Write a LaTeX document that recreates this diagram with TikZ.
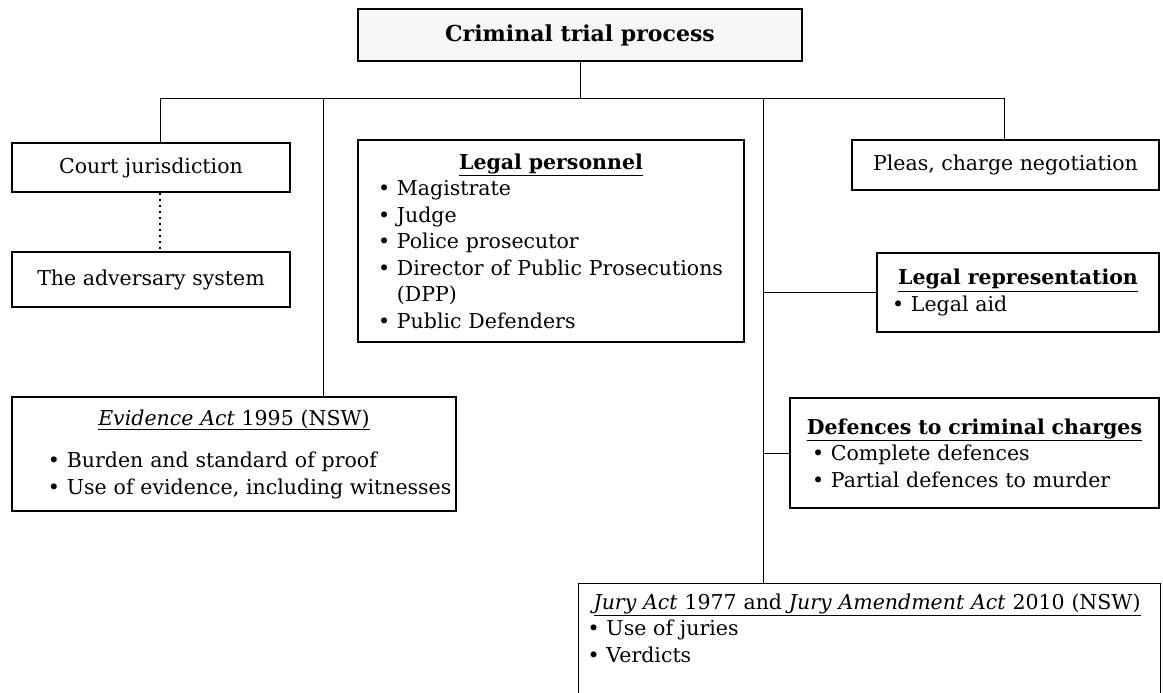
\documentclass[tikz,border=0pt]{standalone}
\usepackage{fontspec}
\setmainfont{DejaVu Serif}
\newcommand{\bul}[2][0pt]{\hspace*{#1}\textbullet~#2}
\newcommand{\head}[1]{\makebox[\hsize]{\underline{#1}}}

\begin{document}
\begin{tikzpicture}[x=1pt,y=-1pt,
  every node/.style={font=\fontsize{20.5}{26.5}\selectfont},
  box/.style={draw=black,line width=1.1pt,rectangle,inner sep=6pt,align=left},
  link/.style={draw=black,line width=1pt}]
\useasboundingbox (0,0) rectangle (1163,693);

 \draw (580,35) node[box,align=center,line width=1.5pt,fill=black!3,minimum width=444pt,minimum height=52pt,font=\fontsize{22}{26}\selectfont\bfseries] (trial)
              {Criminal trial process};

 \draw (151,167.5) node[box,align=center,minimum width=278pt,minimum height=49pt] (court)
              {Court jurisdiction};

 \draw (151,279.5) node[box,align=center,minimum width=278pt,minimum height=55pt] (adv)
              {The adversary system};

 \draw (551,241) node[box,minimum width=386pt,minimum height=202pt,text width=374pt] (pers)
              {\head{\textbf{Legal personnel}}\\
               \bul[14pt]{Magistrate}\\
               \bul[14pt]{Judge}\\
               \bul[14pt]{Police prosecutor}\\
               \bul[14pt]{Director of Public Prosecutions}\\
               \hspace*{14pt}\phantom{\textbullet~}(DPP)\\
               \bul[14pt]{Public Defenders}
              };

 \draw (234,454) node[box,minimum width=444pt,minimum height=114pt,text width=436pt,inner xsep=4pt] (evid)
              {\head{\emph{Evidence Act} 1995 (NSW)}\\[16pt]
               \bul[32pt]{Burden and standard of proof}\\
               \bul[32pt]{Use of evidence, including witnesses}
              };

 \draw (1005.5,165) node[box,align=center,minimum width=307pt,minimum height=50pt] (pleas)
              {Pleas, charge negotiation};

 \draw (1018,292.5) node[box,minimum width=282pt,minimum height=79pt,text width=270pt] (rep)
              {\head{\textbf{Legal representation}}\\
               \bul[9pt]{Legal aid}
              };

 \draw (974.5,453) node[box,minimum width=369pt,minimum height=110pt,text width=357pt] (def)
              {\head{\textbf{Defences to criminal charges}}\\
               \bul[16pt]{Complete defences}\\
               \bul[16pt]{Partial defences to murder}
              };

 \draw (578,583) node[box,anchor=north west,inner ysep=10pt,minimum width=582pt,text width=570pt] (jury)
              {\hspace*{9pt}\underline{\emph{Jury Act} 1977 and \emph{Jury Amendment Act} 2010 (NSW)}\\
               \bul[3pt]{Use of juries}\\
               \bul[3pt]{Verdicts}\\[30pt]
               \mbox{}
              };

 \coordinate (jL) at (160,99);
 \coordinate (jE) at (323,99);
 \coordinate (jR) at (763,99);
 \coordinate (jP) at (1004,99);

 \draw[link] (trial.south) -- (trial.south |- jL);
 \draw[link] (jL |- court.north) -- (jL) -- (jP) -- (jP |- pleas.north);
 \draw[link] (jE) -- (jE |- evid.north);
 \draw[link] (jR) -- (jR |- jury.north);
 \draw[link] (jR |- rep.west) -- (rep.west);
 \draw[link] (jR |- def.west) -- (def.west);
 \draw[link,line width=1.2pt,dash pattern=on 2pt off 4pt] (jL |- court.south) -- (jL |- adv.north);

\end{tikzpicture}
\end{document}
